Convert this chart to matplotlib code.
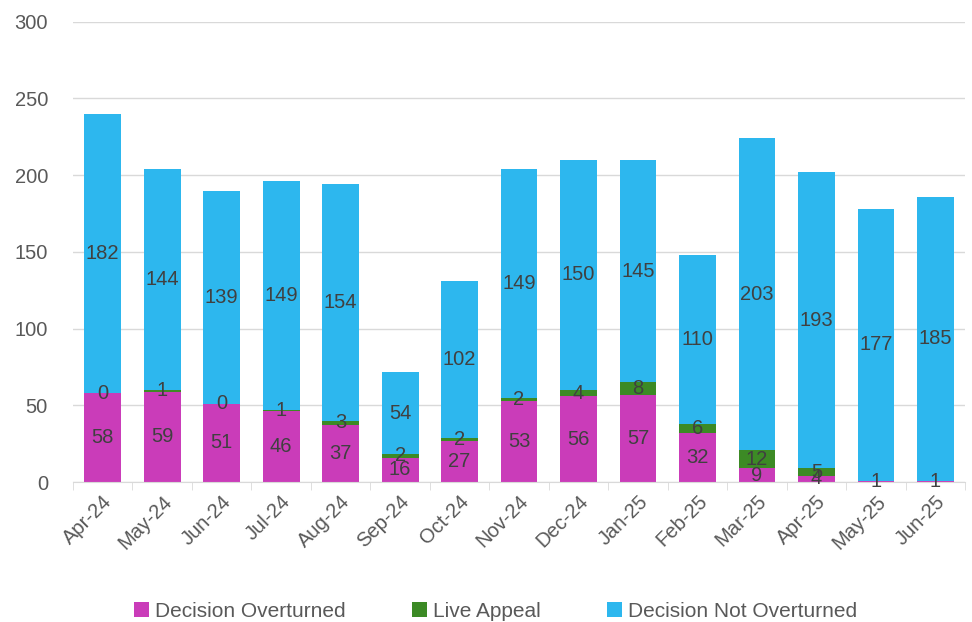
import numpy as np
import matplotlib.pyplot as plt

# Datos
months = ["Apr-24", "May-24", "Jun-24", "Jul-24", "Aug-24", "Sep-24", "Oct-24", "Nov-24",
          "Dec-24", "Jan-25", "Feb-25", "Mar-25", "Apr-25", "May-25", "Jun-25"]
overturned = [58, 59, 51, 46, 37, 16, 27, 53, 56, 57, 32, 9, 4, 1, 1]
live_appeal = [0, 1, 0, 1, 3, 2, 2, 2, 4, 8, 6, 12, 5, np.nan, np.nan]
not_overturned = [182, 144, 139, 149, 154, 54, 102, 149, 150, 145, 110, 203, 193, 177, 185]

PINK = "#CA3CB9"
GREEN = "#3C8A25"
BLUE = "#2DB7EE"
TEXT = "#595959"
LABEL = "#404040"

plt.rcParams["font.family"] = ["Liberation Sans", "DejaVu Sans"]

x = np.arange(len(months))
ov = np.array(overturned, dtype=float)
la = np.array(live_appeal, dtype=float)
no = np.array(not_overturned, dtype=float)
la_fill = np.nan_to_num(la)

fig = plt.figure(figsize=(9.72, 6.22), dpi=100)
ax = fig.add_axes([0.075, 0.225, 0.918, 0.74])

width = 0.62
b1 = ax.bar(x, ov, width, color=PINK, label="Decision Overturned", zorder=2)
b2 = ax.bar(x, la_fill, width, bottom=ov, color=GREEN, label="Live Appeal", zorder=2)
b3 = ax.bar(x, no, width, bottom=ov + la_fill, color=BLUE, label="Decision Not Overturned", zorder=2)

fs = 14.5
ax.bar_label(b1, labels=[f"{v:.0f}" for v in ov], label_type="center", fontsize=fs, color=LABEL)
ax.bar_label(b2, labels=["" if np.isnan(v) else f"{v:.0f}" for v in la],
             label_type="center", fontsize=fs, color=LABEL)
ax.bar_label(b3, labels=[f"{v:.0f}" for v in no], label_type="center", fontsize=fs, color=LABEL)

ax.set_ylim(0, 300)
ax.set_yticks(np.arange(0, 301, 50))
ax.set_xlim(-0.5, len(months) - 0.5)
ax.set_xticks(x)
ax.set_xticklabels(months, rotation=45, ha="right", rotation_mode="anchor")
ax.set_xticks(np.arange(-0.5, len(months)), minor=True)
ax.tick_params(axis="x", which="major", length=0, labelsize=fs, colors=TEXT, pad=7)
ax.tick_params(axis="x", which="minor", length=6, color="#d9d9d9")
ax.tick_params(axis="y", length=0, labelsize=fs, colors=TEXT, pad=18)

ax.grid(axis="y", color="#d9d9d9", linewidth=1, zorder=0)
ax.set_axisbelow(True)
for s in ["top", "right", "left"]:
    ax.spines[s].set_visible(False)
ax.spines["bottom"].set_color("#d9d9d9")

fig.legend(loc="lower center", bbox_to_anchor=(0.51, -0.028), ncol=3, frameon=False,
           fontsize=15, labelcolor=TEXT, handlelength=0.7, handleheight=0.7,
           handletextpad=0.3, columnspacing=3.2)

plt.savefig("out.png", dpi=100)
plt.close()
